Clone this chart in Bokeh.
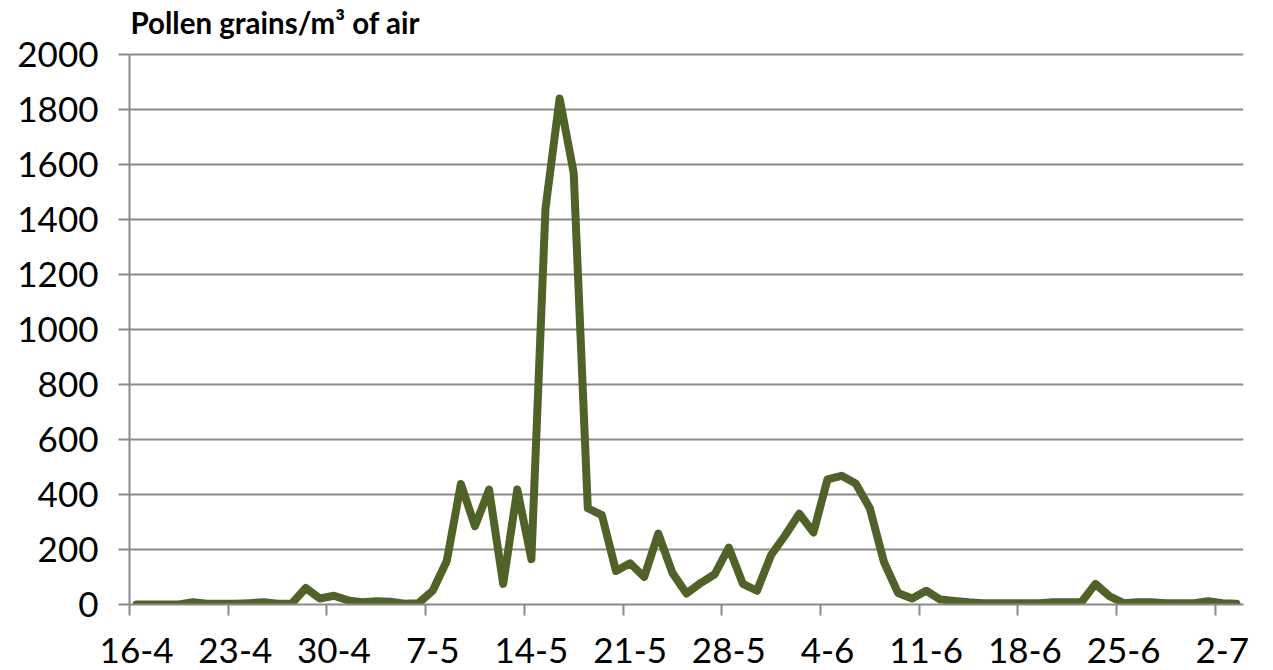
from bokeh.plotting import figure
from bokeh.models import FixedTicker, Range1d
from bokeh.core.properties import value
from bokeh.embed import file_html
from bokeh.resources import INLINE

# daily dates 16-4 .. 3-7
dates = (["%d-4" % d for d in range(16, 31)] + ["%d-5" % d for d in range(1, 32)]
         + ["%d-6" % d for d in range(1, 31)] + ["%d-7" % d for d in range(1, 4)])

pollen = [0, 0, 0, 0, 8, 3, 3, 3, 5, 8, 3, 3, 60, 22, 32, 15, 8, 12, 10, 3,
          5, 50, 158, 438, 285, 418, 75, 418, 165, 1440, 1840, 1570, 350, 325, 122, 150, 100, 258, 115, 40,
          78, 110, 207, 75, 50, 180, 252, 330, 262, 455, 468, 440, 350, 155, 42, 22, 50, 18, 13, 8,
          5, 5, 5, 5, 5, 8, 8, 8, 75, 30, 5, 8, 8, 5, 5, 5, 12, 5, 3]

tick_labels = ["16-4", "23-4", "30-4", "7-5", "14-5", "21-5", "28-5", "4-6", "11-6", "18-6", "25-6", "2-7"]
y_ticks = list(range(0, 2001, 200))
title_text = "Pollen grains/m³ of air"

xs = list(range(len(pollen)))
label_pos = [dates.index(t) for t in tick_labels]
boundary_pos = [i - 0.5 for i in label_pos]

GRAY = "#8a8a8a"
FONT = "Lato"

# layout (pixels)
W, H = 1273, 670
LEFT, RIGHT, BOTTOM = 129, 30, 66
PLOT_TOP_GAP = 54          # space between figure top and the 2000 gridline
Y_MAX = 2000
px_per_unit = (H - BOTTOM - PLOT_TOP_GAP) / Y_MAX
X0, X1 = -0.5, len(pollen) - 0.5
Y_TOP = Y_MAX + PLOT_TOP_GAP / px_per_unit
TITLE_Y = Y_MAX + 32 / px_per_unit

p = figure(width=W, height=H, output_backend="svg", toolbar_location=None, title=None,
           x_range=Range1d(X0, X1), y_range=Range1d(0, Y_TOP),
           min_border_left=LEFT, min_border_right=RIGHT, min_border_top=0, min_border_bottom=BOTTOM)

p.line(xs, pollen, line_color="#4F6228", line_width=8, line_join="round", line_cap="round")

p.outline_line_color = None
p.background_fill_color = "white"
p.border_fill_color = "white"

# title
p.text(x=[X0], y=[TITLE_Y], text=[title_text], x_offset=1,
       text_font=value(FONT), text_font_style="bold", text_font_size="29.5px",
       text_color="black", text_align="left", text_baseline="alphabetic")

# x axis
xa = p.xaxis[0]
xa.ticker = FixedTicker(ticks=label_pos, minor_ticks=boundary_pos)
xa.major_label_overrides = {pos: lab for pos, lab in zip(label_pos, tick_labels)}
xa.major_tick_out = 0
xa.major_tick_in = 0
xa.minor_tick_out = 11
xa.minor_tick_in = 0
xa.minor_tick_line_color = GRAY
xa.minor_tick_line_width = 2
xa.axis_line_color = GRAY
xa.axis_line_width = 2
xa.major_label_text_font = FONT
xa.major_label_text_font_size = "35px"
xa.major_label_text_color = "black"
xa.major_label_standoff = 22

# y axis
ya = p.yaxis[0]
ya.ticker = FixedTicker(ticks=y_ticks)
ya.bounds = (0, Y_MAX)
ya.major_tick_out = 11
ya.major_tick_in = 0
ya.minor_tick_out = 0
ya.minor_tick_in = 0
ya.major_tick_line_color = GRAY
ya.major_tick_line_width = 2
ya.axis_line_color = GRAY
ya.axis_line_width = 2
ya.major_label_text_font = FONT
ya.major_label_text_font_size = "35px"
ya.major_label_text_color = "black"
ya.major_label_standoff = 20

p.xgrid.grid_line_color = None
p.ygrid.grid_line_color = GRAY
p.ygrid.grid_line_width = 2
p.ygrid.ticker = FixedTicker(ticks=y_ticks)

open("out.html", "w").write(file_html(p, INLINE))
